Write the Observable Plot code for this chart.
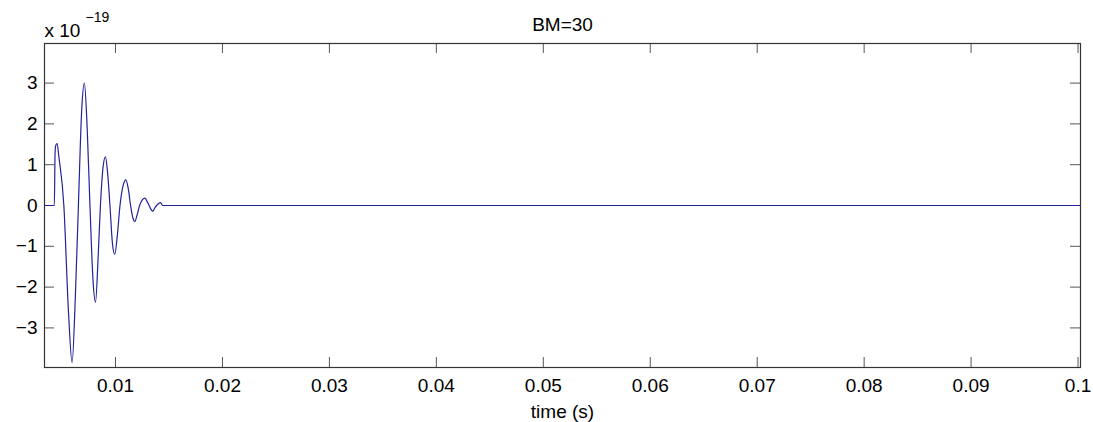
<!DOCTYPE html>
<html>
<head>
<meta charset="utf-8">
<script src="https://cdn.jsdelivr.net/npm/d3@7"></script>
<script src="https://cdn.jsdelivr.net/npm/@observablehq/plot@0.6"></script>
<style>
  html, body { margin: 0; padding: 0; background: #fff; }
  svg { font-family: "Liberation Sans", Arial, sans-serif; }
</style>
</head>
<body>
<div id="chart"></div>
<script>
// Waveform (time in s, amplitude in units of 1e-19)
const time = [0.00336, 0.00428, 0.00435, 0.00442, 0.00454, 0.00470, 0.00517, 0.00560, 0.00594, 0.00625, 0.00653, 0.00685, 0.00709, 0.00735, 0.00761, 0.00790, 0.00813, 0.00837, 0.00859, 0.00884, 0.00906, 0.00926, 0.00948, 0.00972, 0.00993, 0.01018, 0.01042, 0.01072, 0.01097, 0.01120, 0.01141, 0.01162, 0.01181, 0.01203, 0.01225, 0.01251, 0.01275, 0.01295, 0.01314, 0.01333, 0.01350, 0.01367, 0.01384, 0.01403, 0.01422, 0.01440, 0.10023];
const amplitude = [0, 0, 1.30, 1.48, 1.52, 1.20, 0, -2.60, -3.85, -2.20, 0, 2.40, 3.00, 1.90, 0, -1.85, -2.37, -1.30, 0, 0.95, 1.19, 0.80, 0, -0.95, -1.20, -0.70, 0, 0.50, 0.63, 0.40, 0, -0.30, -0.39, -0.22, 0, 0.14, 0.18, 0.10, 0, -0.10, -0.14, -0.06, 0, 0.05, 0.07, 0, 0];

const xTicks = [0.01, 0.02, 0.03, 0.04, 0.05, 0.06, 0.07, 0.08, 0.09, 0.1];
const xTickLabels = ["0.01", "0.02", "0.03", "0.04", "0.05", "0.06", "0.07", "0.08", "0.09", "0.1"];
const yTicks = [-3, -2, -1, 0, 1, 2, 3];
const yTickLabels = ["\u22123", "\u22122", "\u22121", "0", "1", "2", "3"];
const xDomain = [0.00336, 0.10023];
const yDomain = [-3.97, 3.97];
const title = "BM=30";
const xLabel = "time (s)";
const yExponent = "\u221219";

const data = time.map((t, i) => ({t, a: amplitude[i]}));

const W = 1093, H = 422;
const mL = 44, mR = 13, mT = 43, mB = 55;
const plotW = W - mL - mR, plotH = H - mT - mB;
const tickLen = 10;
const tickColor = "#555";
const fs = 19;

const chart = Plot.plot({
  width: W,
  height: H,
  marginLeft: mL,
  marginRight: mR,
  marginTop: mT,
  marginBottom: mB,
  style: {fontFamily: "'Liberation Sans', Arial, sans-serif", fontSize: fs + "px", color: "#000", background: "#fff"},
  x: {domain: xDomain},
  y: {domain: yDomain},
  marks: [
    // inward ticks on all four sides
    Plot.tickX(xTicks, {x: d => d, stroke: tickColor, insetTop: plotH - tickLen}),
    Plot.tickX(xTicks, {x: d => d, stroke: tickColor, insetBottom: plotH - tickLen}),
    Plot.tickY(yTicks, {y: d => d, stroke: tickColor, insetRight: plotW - tickLen}),
    Plot.tickY(yTicks, {y: d => d, stroke: tickColor, insetLeft: plotW - tickLen}),
    Plot.line(data, {x: "t", y: "a", stroke: "#22229a", strokeWidth: 1.2, curve: "monotone-x"}),
    Plot.frame({stroke: "#333", strokeWidth: 1.2}),
    Plot.axisX({ticks: xTicks, tickSize: 0, tickPadding: 11, tickFormat: (d, i) => xTickLabels[i], label: null, fontSize: fs, fill: "#000"}),
    Plot.axisY({ticks: yTicks, tickSize: 0, tickPadding: 7, tickFormat: (d, i) => yTickLabels[i], label: null, fontSize: fs, fill: "#000"}),
    Plot.text([title], {text: d => d, frameAnchor: "top", dy: -26, fontSize: fs, fill: "#000"}),
    Plot.text([xLabel], {text: d => d, frameAnchor: "bottom", lineAnchor: "bottom", dy: 50, fontSize: fs, fill: "#000"}),
    Plot.text(["x 10"], {text: d => d, frameAnchor: "top-left", textAnchor: "start", dy: -20, dx: 0, fontSize: fs, fill: "#000"}),
    Plot.text([yExponent], {text: d => d, frameAnchor: "top-left", textAnchor: "start", dy: -31, dx: 41, fontSize: 14, fill: "#000"})
  ]
});
document.getElementById("chart").appendChild(chart);
</script>
</body>
</html>
